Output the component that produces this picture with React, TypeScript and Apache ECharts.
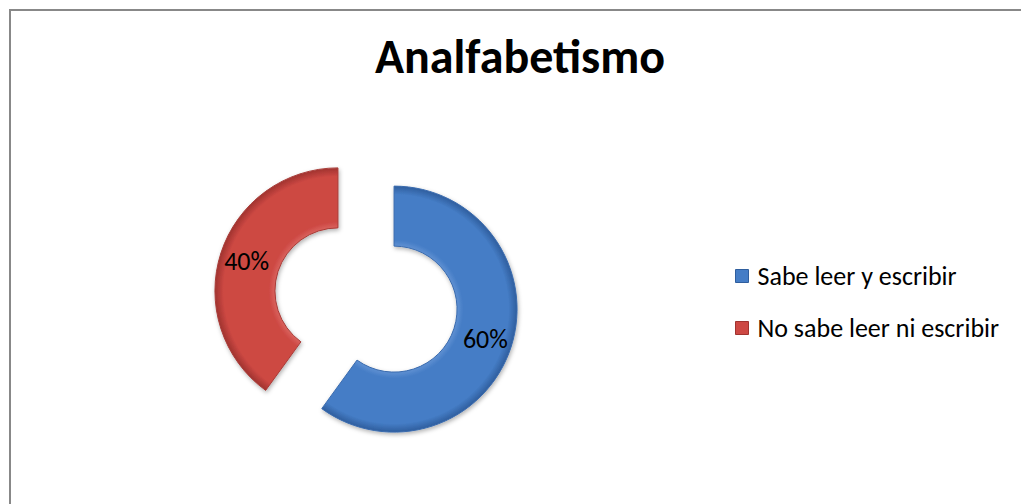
import React, { useEffect, useRef } from "react";
import * as echarts from "echarts";

const titleText = "Analfabetismo";
const categories = ["Sabe leer y escribir", "No sabe leer ni escribir"];
const values = [60, 40];
const colors = ["#457DC6", "#CD4843"];
const lights = ["#5F90D2", "#D9625D"];
const darks = ["#2F5E9E", "#A0332F"];
const borders = ["#3A6BAE", "#A83C38"];

const FONT = "Calibri, Carlito, 'Liberation Sans', Arial, sans-serif";
const CENTER = [366, 300];
const R0 = 63;
const R1 = 123;
const OFFSET = 29.5;

export default function App() {
  const ref = useRef<HTMLDivElement>(null);
  useEffect(() => {
    if (!ref.current) return;
    const chart = echarts.init(ref.current, undefined, { renderer: "svg" });
    const total = values.reduce((a, b) => a + b, 0);
    const k = R0 / R1;
    const fills = values.map((_, i) => ({
      type: "radial",
      x: CENTER[0],
      y: CENTER[1],
      r: R1,
      global: true,
      colorStops: [
        { offset: 0, color: lights[i] },
        { offset: k, color: lights[i] },
        { offset: k + 0.05, color: colors[i] },
        { offset: 0.93, color: colors[i] },
        { offset: 1, color: darks[i] },
      ],
    }));
    chart.setOption({
      animation: false,
      backgroundColor: "#ffffff",
      title: {
        text: titleText,
        left: 520,
        textAlign: "center",
        top: 32,
        padding: 0,
        textStyle: { fontFamily: FONT, fontSize: 48, fontWeight: "bold", color: "#000000" },
      },
      legend: {
        orient: "vertical",
        left: 735,
        top: 263,
        padding: 0,
        itemWidth: 13,
        itemHeight: 13,
        itemGap: 26,
        icon: "rect",
        selectedMode: false,
        data: categories.map((name, i) => ({
          name,
          itemStyle: { color: colors[i], borderColor: darks[i], borderWidth: 1 },
        })),
        textStyle: {
          fontFamily: FONT,
          fontSize: 26,
          lineHeight: 24,
          color: "#000000",
          padding: [0, 0, 0, 4],
        },
      },
      graphic: [
        {
          type: "rect",
          shape: { x: 10, y: 10, width: 1300, height: 800 },
          style: { fill: "none", stroke: "#888888", lineWidth: 2 },
          silent: true,
        },
      ],
      series: [
        {
          type: "pie",
          center: CENTER,
          radius: [R0, R1],
          startAngle: 90,
          clockwise: true,
          selectedMode: "multiple",
          selectedOffset: OFFSET,
          avoidLabelOverlap: false,
          emphasis: { disabled: true },
          label: {
            show: true,
            position: "inside",
            fontFamily: FONT,
            fontSize: 26,
            color: "#000000",
            formatter: (p: any) => Math.round((p.value / total) * 100) + "%",
          },
          labelLine: { show: false },
          data: categories.map((name, i) => ({
            name,
            value: values[i],
            selected: true,
            itemStyle: {
              color: fills[i],
              borderColor: borders[i],
              borderWidth: 1,
              shadowColor: "rgba(0,0,0,0.3)",
              shadowBlur: 4,
              shadowOffsetX: 1,
              shadowOffsetY: 2,
            },
            select: { itemStyle: { color: fills[i], borderColor: borders[i], borderWidth: 1 } },
          })),
        },
      ],
    });
    return () => chart.dispose();
  }, []);
  return (
    <div
      ref={ref}
      style={{ position: "absolute", left: 0, top: 0, width: 1021, height: 504 }}
    />
  );
}
